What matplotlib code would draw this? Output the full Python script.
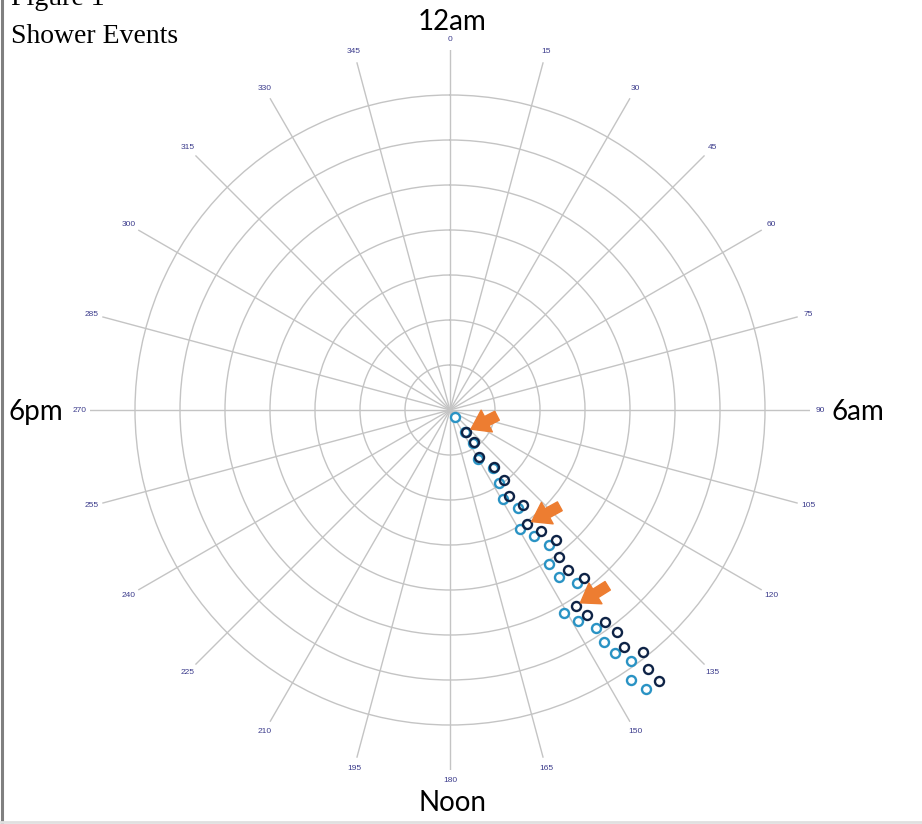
import numpy as np
import matplotlib
matplotlib.use('Agg')
import matplotlib.pyplot as plt

# shower end times (teal) and start times (navy), angle in degrees (15 deg = 1 hour)
# radius in ring units (each grid circle = 1)
end_angle = [145.6, 145.5, 145.4, 150.5, 143.8, 146.1, 149.2, 145.2, 149.5, 146.3, 143.7,
             147.2, 146.8, 143.7, 150.8, 148.8, 146.3, 146.4, 145.9, 144.3, 146.1, 144.9]
end_radius = [0.20, 0.60, 0.90, 1.25, 1.61, 1.96, 2.31, 2.66, 3.07, 3.36, 3.72,
              4.07, 4.43, 4.78, 5.18, 5.48, 5.83, 6.18, 6.53, 6.88, 7.23, 7.58]

start_angle = [143.6, 143.4, 148.2, 142.5, 142.4, 145.5, 142.6, 146.1, 143.0, 140.7, 143.6,
               143.6, 141.5, 147.3, 146.3, 143.8, 143.1, 143.7, 141.5, 142.6, 142.4]
start_radius = [0.60, 0.89, 1.24, 1.61, 1.96, 2.31, 2.66, 3.06, 3.36, 3.72, 4.07,
                4.42, 4.78, 5.17, 5.48, 5.83, 6.18, 6.53, 6.88, 7.24, 7.60]

# points flagged with arrows (index into start series)
flagged = [0, 7, 13]

tick_angles = list(range(0, 360, 15))
rings = [1, 2, 3, 4, 5, 6, 7]

W, H = 922, 824
fig = plt.figure(figsize=(W / 100, H / 100), dpi=100)

cx, cy, R = 450, 410, 360
ax = fig.add_axes([(cx - R) / W, (H - cy - R) / H, 2 * R / W, 2 * R / H], projection='polar')
ax.set_theta_zero_location('N')
ax.set_theta_direction(-1)
ax.set_ylim(0, 8)
ax.set_thetagrids(tick_angles, labels=[])
ax.set_rgrids(rings, labels=[])
ax.grid(True, color='#c4c4c4', linewidth=1.0)
ax.spines['polar'].set_visible(False)
ax.set_facecolor('none')
ax.tick_params(length=0)

for a in tick_angles:
    ax.text(np.radians(a), 8.24, str(a), fontsize=6, color='#3c3c8c',
            ha='center', va='center', family='Liberation Sans')

ax.plot(np.radians(end_angle), end_radius, 'o', ms=6.5, mfc='white', mec='#2a93c4',
        mew=1.7, zorder=3)
ax.plot(np.radians(start_angle), start_radius, 'o', ms=6.5, mfc='none', mec='#0e2346',
        mew=1.7, zorder=4)

offsets = [(31, 16), (33, 18), (32, 20)]
for i, off in zip(flagged, offsets):
    ax.annotate('', xy=(np.radians(start_angle[i]), start_radius[i]), xytext=off,
                textcoords='offset pixels',
                arrowprops=dict(arrowstyle='simple,head_length=0.8,head_width=1.1,tail_width=0.45',
                                color='#ed7d31', shrinkA=0, shrinkB=4, mutation_scale=16),
                zorder=5)

def fx(x):
    return x / W

def fy(y):
    return 1 - y / H

fig.text(fx(11), fy(5), 'Figure 1', fontsize=20, family='Liberation Serif', va='baseline')
fig.text(fx(11), fy(43), 'Shower Events', fontsize=20, family='Liberation Serif', va='baseline')

big = dict(fontsize=20, family='Lato', ha='center', va='center')
fig.text(fx(452), fy(22), '12am', **big)
fig.text(fx(858), fy(412), '6am', **big)
fig.text(fx(452), fy(803), 'Noon', **big)
fig.text(fx(36), fy(412), '6pm', **big)

# page borders
fig.add_artist(plt.Line2D([fx(1.5), fx(1.5)], [0, 1], color='#808080', linewidth=2.2))
fig.add_artist(plt.Line2D([0, 1], [fy(822), fy(822)], color='#e0e0e0', linewidth=2))

fig.savefig('out.png', dpi=100)
